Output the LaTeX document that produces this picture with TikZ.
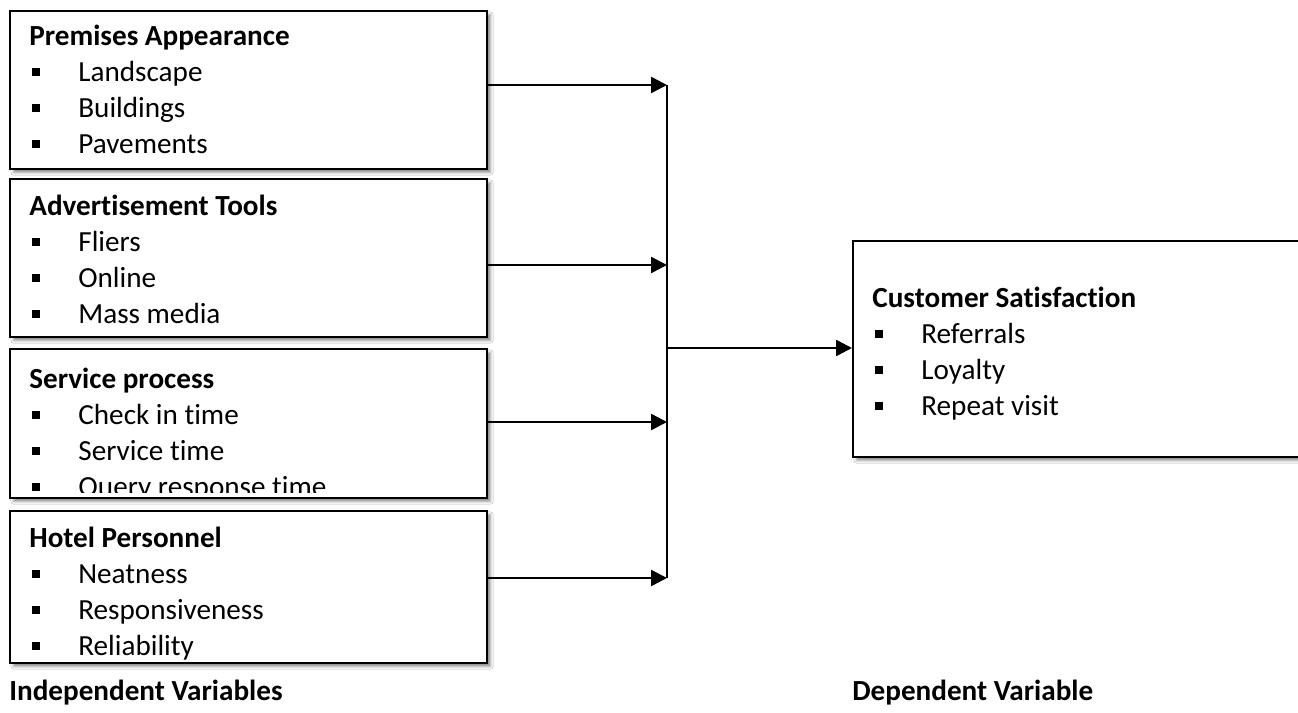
\documentclass[tikz,border=0pt]{standalone}
\usepackage{fontspec}
\setmainfont[Ligatures=NoCommon]{Carlito}
\usetikzlibrary{arrows.meta,positioning,shadows.blur}

\newcommand{\blt}{\makebox[27.9pt][l]{\hspace{1.7pt}\rule[3.3pt]{4.6pt}{4.6pt}}}

\tikzset{
  varbox/.style={draw, line width=1.2pt, fill=white, inner sep=0pt, anchor=north west,
    blur shadow={shadow xshift=2pt, shadow yshift=-2pt, shadow blur radius=1.5pt, shadow opacity=45}},
  boxtext/.style={anchor=north west, align=left, inner sep=0pt,
    font=\fontsize{16.6pt}{20.5pt}\selectfont},
  flow/.style={-{Triangle[length=9pt,width=9pt]}, line width=1.4pt},
  caption/.style={anchor=west, inner sep=0pt, font=\fontsize{16.6pt}{18pt}\selectfont\bfseries},
}

\begin{document}
\begin{tikzpicture}[x=0.02cm,y=-0.02cm]
\useasboundingbox (0,0) rectangle (1298,713);
\clip (0,0) rectangle (1298,713);
\fill[white] (0,0) rectangle (1298,713);

% independent variables
\node[varbox, minimum width=9.54cm, minimum height=3.16cm] (pa) at (9,10) {};
\node[varbox, minimum width=9.54cm, minimum height=3.16cm] (at) at (9,178) {};
\node[varbox, minimum width=9.54cm, minimum height=2.98cm] (sp) at (9,348) {};
\node[varbox, minimum width=9.54cm, minimum height=3.04cm] (hp) at (9,510) {};

\node[boxtext] (patext) at (29,25) {\textbf{Premises Appearance}\\\blt Landscape\\\blt Buildings\\\blt Pavements};
\node[boxtext] (attext) at (29,195) {\textbf{Advertisement Tools}\\\blt Fliers\\\blt Online\\\blt Mass media};
\begin{scope}
  \clip (9,348) rectangle (486,492);
  \node[boxtext] (sptext) at (29,368) {\textbf{Service process}\\\blt Check in time\\\blt Service time\\\blt Query response time};
\end{scope}
\node[boxtext] (hptext) at (29,527) {\textbf{Hotel Personnel}\\\blt Neatness\\\blt Responsiveness\\\blt Reliability};

% dependent variable
\node[varbox, minimum width=9.4cm, minimum height=4.32cm] (cs) at (852,240) {};
\node[boxtext] (cstext) at (872,287) {\textbf{Customer Satisfaction}\\\blt Referrals\\\blt Loyalty\\\blt Repeat visit};

% connectors
\coordinate (j1) at (667,85);
\coordinate (j2) at (667,265);
\coordinate (j3) at (667,422);
\coordinate (j4) at (667,578);
\coordinate (jm) at (667,348);
\draw[flow] (pa.east |- j1) -- (j1);
\draw[flow] (at.east |- j2) -- (j2);
\draw[flow] (sp.east |- j3) -- (j3);
\draw[flow] (hp.east |- j4) -- (j4);
\draw[line width=1.4pt] (j1) -- (j4);
\draw[flow] (jm) -- (cs.west |- jm);

\node[caption] (indep) at (9,693) {Independent Variables};
\node[caption] (dep) at (852,693) {Dependent Variable};
\end{tikzpicture}
\end{document}
